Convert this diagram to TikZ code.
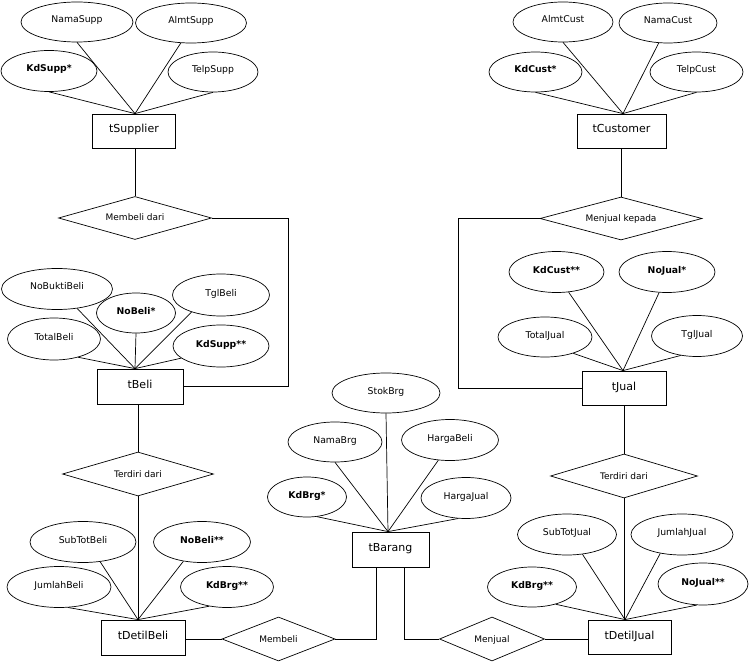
\documentclass[tikz,border=0pt]{standalone}
\usepackage{fontspec}
\setmainfont{DejaVu Sans}
\usetikzlibrary{shapes.geometric}
\begin{document}
\begin{tikzpicture}[x=1pt,y=-1pt,
  attr/.style={draw, ellipse, inner sep=0pt, line width=0.7pt,
    font=\fontsize{9.3}{11}\selectfont, text height=6.8pt, text depth=4.8pt},
  keyattr/.style={attr, font=\fontsize{9.3}{11}\selectfont\bfseries},
  entity/.style={draw, rectangle, inner sep=0pt, line width=0.8pt,
    font=\fontsize{11}{13}\selectfont, text height=8pt, text depth=4pt},
  rel/.style={draw, diamond, aspect=3.6, inner sep=0pt, line width=0.7pt,
    font=\fontsize{9}{11}\selectfont, text height=6.5pt, text depth=0.5pt},
  link/.style={line width=0.7pt}]
\useasboundingbox (0,0) rectangle (750,663);

% ---- Supplier ----
\node[attr, minimum width=112pt, minimum height=40pt] (NamaSupp) at (77,22) {NamaSupp};
\node[attr, minimum width=111pt, minimum height=40pt] (AlmtSupp) at (191,23) {AlmtSupp};
\node[keyattr, minimum width=96pt, minimum height=41pt] (KdSupp) at (49,71) {KdSupp*};
\node[attr, minimum width=90pt, minimum height=40pt] (TelpSupp) at (213,72) {TelpSupp};
\node[entity, minimum width=83pt, minimum height=34pt] (tSupplier) at (134,131) {tSupplier};
\node[rel, minimum width=153pt, minimum height=43pt] (MembeliDari) at (135,218) {Membeli dari};

% ---- Beli ----
\node[attr, minimum width=111pt, minimum height=41pt] (NoBuktiBeli) at (57,289) {NoBuktiBeli};
\node[keyattr, minimum width=79pt, minimum height=40pt] (NoBeli) at (136,313) {NoBeli*};
\node[attr, minimum width=97pt, minimum height=42pt] (TglBeli) at (221,295) {TglBeli};
\node[attr, minimum width=93pt, minimum height=42pt] (TotalBeli) at (54,339) {TotalBeli};
\node[keyattr, minimum width=96pt, minimum height=42pt] (KdSuppFK) at (221,346) {KdSupp**};
\node[entity, minimum width=86pt, minimum height=35pt] (tBeli) at (140,386.5) {tBeli};
\node[rel, minimum width=151pt, minimum height=44pt] (TerdiriBeli) at (138,474) {Terdiri dari};

% ---- DetilBeli ----
\node[attr, minimum width=106pt, minimum height=41pt] (SubTotBeli) at (83,542) {SubTotBeli};
\node[keyattr, minimum width=97pt, minimum height=41pt] (NoBeliFK) at (202,542) {NoBeli**};
\node[attr, minimum width=104pt, minimum height=41pt] (JumlahBeli) at (59,587) {JumlahBeli};
\node[keyattr, minimum width=93pt, minimum height=41pt] (KdBrgB) at (227,587) {KdBrg**};
\node[entity, minimum width=84pt, minimum height=35pt] (tDetilBeli) at (143,637.5) {tDetilBeli};
\node[rel, minimum width=113pt, minimum height=44pt] (Membeli) at (278.5,639) {Membeli};

% ---- Barang ----
\node[attr, minimum width=108pt, minimum height=40pt] (StokBrg) at (386,393) {StokBrg};
\node[attr, minimum width=94pt, minimum height=40pt] (NamaBrg) at (335,442) {NamaBrg};
\node[attr, minimum width=97pt, minimum height=41pt] (HargaBeli) at (450,440) {HargaBeli};
\node[keyattr, minimum width=79pt, minimum height=40pt] (KdBrg) at (307,497) {KdBrg*};
\node[attr, minimum width=90pt, minimum height=41pt] (HargaJual) at (466,498) {HargaJual};
\node[entity, minimum width=77pt, minimum height=35pt] (tBarang) at (390.5,549.5) {tBarang};
\node[rel, minimum width=105pt, minimum height=44pt] (Menjual) at (492,639) {Menjual};

% ---- Customer ----
\node[attr, minimum width=100pt, minimum height=40pt] (AlmtCust) at (563,22) {AlmtCust};
\node[attr, minimum width=98pt, minimum height=40pt] (NamaCust) at (668,23) {NamaCust};
\node[keyattr, minimum width=93pt, minimum height=40pt] (KdCust) at (535.5,72) {KdCust*};
\node[attr, minimum width=93pt, minimum height=40pt] (TelpCust) at (696.5,72) {TelpCust};
\node[entity, minimum width=89pt, minimum height=34pt] (tCustomer) at (621.5,131) {tCustomer};
\node[rel, minimum width=162pt, minimum height=43pt] (MenjualKepada) at (621,218.5) {Menjual kepada};

% ---- Jual ----
\node[keyattr, minimum width=95pt, minimum height=41pt] (KdCustFK) at (556.5,272) {KdCust**};
\node[keyattr, minimum width=96pt, minimum height=41pt] (NoJual) at (667,272) {NoJual*};
\node[attr, minimum width=94pt, minimum height=40pt] (TotalJual) at (545,337) {TotalJual};
\node[attr, minimum width=91pt, minimum height=41pt] (TglJual) at (697,336) {TglJual};
\node[entity, minimum width=84pt, minimum height=34pt] (tJual) at (624,388) {tJual};
\node[rel, minimum width=147pt, minimum height=44pt] (TerdiriJual) at (624,476) {Terdiri dari};

% ---- DetilJual ----
\node[attr, minimum width=99pt, minimum height=41pt] (SubTotJual) at (567,534.5) {SubTotJual};
\node[attr, minimum width=102pt, minimum height=41pt] (JumlahJual) at (682,534.5) {JumlahJual};
\node[keyattr, minimum width=89pt, minimum height=40pt] (KdBrgJ) at (532,587) {KdBrg**};
\node[keyattr, minimum width=90pt, minimum height=42pt] (NoJualFK) at (703,584) {NoJual**};
\node[entity, minimum width=83pt, minimum height=34pt] (tDetilJual) at (629.5,637) {tDetilJual};

% ---- attribute links ----
\begin{scope}[link]
\draw (NamaSupp.south) -- ([xshift=1pt]tSupplier.north);
\draw (AlmtSupp.-117) -- ([xshift=1pt]tSupplier.north);
\draw (KdSupp.south) -- ([xshift=1pt]tSupplier.north);
\draw (TelpSupp.south) -- ([xshift=1pt]tSupplier.north);

\draw (NoBuktiBeli.-44) -- ([xshift=-5pt]tBeli.north);
\draw (NoBeli.south) -- ([xshift=-5pt]tBeli.north);
\draw (TglBeli.-150) -- ([xshift=-5pt]tBeli.north);
\draw (TotalBeli.-37) -- ([xshift=-5pt]tBeli.north);
\draw (KdSuppFK.-163) -- ([xshift=-5pt]tBeli.north);

\draw (SubTotBeli.-49) -- ([xshift=-5pt]tDetilBeli.north);
\draw (NoBeliFK.-134) -- ([xshift=-5pt]tDetilBeli.north);
\draw (JumlahBeli.-66) -- ([xshift=-5pt]tDetilBeli.north);
\draw (KdBrgB.-133) -- ([xshift=-5pt]tDetilBeli.north);

\draw (StokBrg.south) -- ([xshift=-2.5pt]tBarang.north);
\draw (NamaBrg.south) -- ([xshift=-2.5pt]tBarang.north);
\draw (HargaBeli.-120) -- ([xshift=-2.5pt]tBarang.north);
\draw (KdBrg.-63) -- ([xshift=-2.5pt]tBarang.north);
\draw (HargaJual.-111) -- ([xshift=-2.5pt]tBarang.north);

\draw (AlmtCust.south) -- ([xshift=1.5pt]tCustomer.north);
\draw (NamaCust.-115) -- ([xshift=1.5pt]tCustomer.north);
\draw (KdCust.south) -- ([xshift=1.5pt]tCustomer.north);
\draw (TelpCust.south) -- ([xshift=1.5pt]tCustomer.north);

\draw (KdCustFK.-59) -- ([xshift=-1pt]tJual.north);
\draw (NoJual.-111) -- ([xshift=-1pt]tJual.north);
\draw (TotalJual.-30) -- ([xshift=-1pt]tJual.north);
\draw (TglJual.-130) -- ([xshift=-1pt]tJual.north);

\draw (SubTotJual.-52) -- ([xshift=-4.5pt]tDetilJual.north);
\draw (JumlahJual.-139) -- ([xshift=-4.5pt]tDetilJual.north);
\draw (KdBrgJ.-36) -- ([xshift=-4.5pt]tDetilJual.north);
\draw (NoJualFK.-107) -- ([xshift=-4.5pt]tDetilJual.north);

% ---- relationship links ----
\draw (MembeliDari.north |- tSupplier.south) -- (MembeliDari.north);
\draw (MembeliDari.east) -- ++(76,0) |- (tBeli.east);
\draw (TerdiriBeli.north |- tBeli.south) -- (TerdiriBeli.north);
\draw (TerdiriBeli.south) -- (TerdiriBeli.south |- tDetilBeli.north);
\draw (tDetilBeli.east |- Membeli.west) -- (Membeli.west);
\draw (Membeli.east) -| ([xshift=-14.5pt]tBarang.south);
\draw ([xshift=13.5pt]tBarang.south) |- (Menjual.west);
\draw (Menjual.east) -- (tDetilJual.west |- Menjual.east);

\draw (MenjualKepada.north |- tCustomer.south) -- (MenjualKepada.north);
\draw (MenjualKepada.west) -- ++(-81,0) |- (tJual.west);
\draw (TerdiriJual.north |- tJual.south) -- (TerdiriJual.north);
\draw (TerdiriJual.south) -- (TerdiriJual.south |- tDetilJual.north);
\end{scope}
\end{tikzpicture}
\end{document}
